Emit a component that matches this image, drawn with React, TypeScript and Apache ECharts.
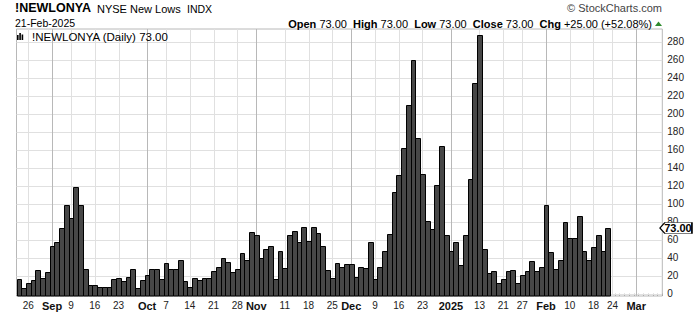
import React, { useEffect, useRef } from "react";
import * as echarts from "echarts";

// Trading days (categories), Aug 22 2024 .. Mar 10 2025
const dates: string[] = [
  "2024-08-22", "2024-08-23", "2024-08-26", "2024-08-27", "2024-08-28", "2024-08-29", "2024-08-30",
  "2024-09-03", "2024-09-04", "2024-09-05", "2024-09-06", "2024-09-09", "2024-09-10", "2024-09-11", "2024-09-12", "2024-09-13",
  "2024-09-16", "2024-09-17", "2024-09-18", "2024-09-19", "2024-09-20", "2024-09-23", "2024-09-24", "2024-09-25", "2024-09-26", "2024-09-27", "2024-09-30",
  "2024-10-01", "2024-10-02", "2024-10-03", "2024-10-04", "2024-10-07", "2024-10-08", "2024-10-09", "2024-10-10", "2024-10-11",
  "2024-10-14", "2024-10-15", "2024-10-16", "2024-10-17", "2024-10-18", "2024-10-21", "2024-10-22", "2024-10-23", "2024-10-24", "2024-10-25",
  "2024-10-28", "2024-10-29", "2024-10-30", "2024-10-31",
  "2024-11-01", "2024-11-04", "2024-11-05", "2024-11-06", "2024-11-07", "2024-11-08", "2024-11-11", "2024-11-12", "2024-11-13", "2024-11-14", "2024-11-15",
  "2024-11-18", "2024-11-19", "2024-11-20", "2024-11-21", "2024-11-22", "2024-11-25", "2024-11-26", "2024-11-27", "2024-11-29",
  "2024-12-02", "2024-12-03", "2024-12-04", "2024-12-05", "2024-12-06", "2024-12-09", "2024-12-10", "2024-12-11", "2024-12-12", "2024-12-13",
  "2024-12-16", "2024-12-17", "2024-12-18", "2024-12-19", "2024-12-20", "2024-12-23", "2024-12-24", "2024-12-26", "2024-12-27", "2024-12-30", "2024-12-31",
  "2025-01-02", "2025-01-03", "2025-01-06", "2025-01-07", "2025-01-08", "2025-01-10", "2025-01-13", "2025-01-14", "2025-01-15", "2025-01-16", "2025-01-17",
  "2025-01-21", "2025-01-22", "2025-01-23", "2025-01-24", "2025-01-27", "2025-01-28", "2025-01-29", "2025-01-30", "2025-01-31",
  "2025-02-03", "2025-02-04", "2025-02-05", "2025-02-06", "2025-02-07", "2025-02-10", "2025-02-11", "2025-02-12", "2025-02-13", "2025-02-14",
  "2025-02-18", "2025-02-19", "2025-02-20", "2025-02-21",
  "2025-02-24", "2025-02-25", "2025-02-26", "2025-02-27", "2025-02-28",
  "2025-03-03", "2025-03-04", "2025-03-05", "2025-03-06", "2025-03-07", "2025-03-10",
];

// Daily values of !NEWLONYA (one per trading day, Aug 22 2024 .. Feb 21 2025)
const values: number[] = [
  16, 6, 12, 15, 26, 17, 24,
  53, 57, 73, 99, 84, 118, 99, 28, 10,
  10, 7, 7, 7, 16, 18, 14, 19, 28, 6, 15,
  21, 27, 27, 16, 34, 28, 28, 37, 14,
  7, 17, 15, 18, 17, 25, 30, 40, 35, 24,
  28, 45, 38, 69,
  65, 40, 50, 53, 16, 47, 29, 65, 70, 58, 74,
  59, 74, 68, 53, 26, 17, 34, 30, 33,
  33, 19, 30, 29, 58, 16, 30, 47, 66, 113,
  132, 162, 210, 260, 173, 133, 81, 72, 121, 164, 65,
  48, 57, 32, 65, 127, 234, 287, 50, 23, 25, 12,
  16, 25, 26, 12, 21, 25, 36, 25, 30,
  98, 46, 28, 37, 80, 62, 62, 86, 47, 38,
  52, 65, 48, 73,
];

const tickDates: string[] = [
  "2024-08-26", "2024-09-03", "2024-09-09", "2024-09-16", "2024-09-23", "2024-10-01", "2024-10-07",
  "2024-10-14", "2024-10-21", "2024-10-28", "2024-11-01", "2024-11-11", "2024-11-18", "2024-11-25",
  "2024-12-02", "2024-12-09", "2024-12-16", "2024-12-23", "2025-01-02", "2025-01-13", "2025-01-21",
  "2025-01-27", "2025-02-03", "2025-02-10", "2025-02-18", "2025-02-24", "2025-03-03",
];
const tickLabels: string[] = [
  "26", "Sep", "9", "16", "23", "Oct", "7", "14", "21", "28", "Nov", "11", "18", "25",
  "Dec", "9", "16", "23", "2025", "13", "21", "27", "Feb", "10", "18", "24", "Mar",
];
const monthLabels: string[] = ["Sep", "Oct", "Nov", "Dec", "2025", "Feb", "Mar"];
const yTicks: number[] = [0, 20, 40, 60, 80, 100, 120, 140, 160, 180, 200, 220, 240, 260, 280];

const Y_MIN = -2.5;
const Y_MAX = 294;
const FONT = "'Liberation Sans', Arial, sans-serif";

export default function App() {
  const ref = useRef<HTMLDivElement>(null);

  useEffect(() => {
    if (!ref.current) return;
    const chart = echarts.init(ref.current, null, { renderer: "svg" });

    const tickMap = new Map<string, string>();
    tickDates.forEach((d, i) => tickMap.set(d, tickLabels[i]));
    const isMonth = (lbl: string) => monthLabels.indexOf(lbl) >= 0;

    const n = values.length;
    const last = values[n - 1];
    const prev = values[n - 2];
    const chg = last - prev;
    const pct = (chg / prev) * 100;
    const f2 = (v: number) => v.toFixed(2);
    const sign = (v: number) => (v >= 0 ? "+" : "") + f2(v);

    const header =
      `{b|Open} ${f2(last)}  {b|High} ${f2(last)}  {b|Low} ${f2(last)}  {b|Close} ${f2(last)}  {b|Chg} ${sign(chg)} (${sign(pct)}%)`;

    chart.setOption({
      animation: false,
      backgroundColor: "#fff",
      textStyle: { fontFamily: FONT },
      grid: {
        left: 16.5,
        top: 29,
        width: 645.8,
        height: 267,
        show: true,
        borderColor: "#b8b8b8",
        borderWidth: 1,
        backgroundColor: "#fff",
      },
      xAxis: {
        type: "category",
        data: dates,
        boundaryGap: true,
        axisLine: { show: false },
        axisTick: { show: true, interval: 0, length: 2, lineStyle: { color: "#999" } },
        splitLine: { show: false },
        axisLabel: {
          interval: (_i: number, v: string) => tickMap.has(v),
          formatter: (v: string) => {
            const l = tickMap.get(v) || "";
            return isMonth(l) ? `{m|${l}}` : l;
          },
          color: "#222",
          fontSize: 10,
          fontFamily: FONT,
          margin: 4,
          rich: { m: { fontWeight: "bold", fontSize: 11, color: "#111", fontFamily: FONT } },
        },
      },
      yAxis: {
        type: "value",
        position: "right",
        min: Y_MIN,
        max: Y_MAX,
        axisLine: { show: false },
        axisTick: { show: false },
        splitLine: { show: false },
        axisLabel: {
          customValues: yTicks,
          color: "#222",
          fontSize: 10,
          fontFamily: FONT,
          margin: 5,
        },
      },
      series: [
        {
          type: "custom",
          name: "hgrid",
          silent: true,
          z: 1,
          data: yTicks.map((v) => [0, v]),
          renderItem: (params: any, api: any) => {
            const cs = params.coordSys;
            const y = Math.round(api.coord([0, api.value(1)])[1]) + 0.5;
            return {
              type: "line",
              shape: { x1: cs.x, y1: y, x2: cs.x + cs.width, y2: y },
              style: { stroke: "#e0e0e0", lineWidth: 1 },
            };
          },
        },
        {
          type: "custom",
          name: "vgrid",
          silent: true,
          z: 1,
          data: tickDates.map((d, i) => [d, 0, isMonth(tickLabels[i]) ? 1 : 0]),
          renderItem: (params: any, api: any) => {
            const cs = params.coordSys;
            const x = Math.round(api.coord([api.value(0), 0])[0]) + 0.5;
            const strong = api.value(2) === 1;
            return {
              type: "line",
              shape: { x1: x, y1: cs.y, x2: x, y2: cs.y + cs.height },
              style: { stroke: strong ? "#b8b8b8" : "#e0e0e0", lineWidth: 1 },
            };
          },
        },
        {
          type: "custom",
          name: "!NEWLONYA",
          z: 3,
          data: values.map((v, i) => [i, v]),
          renderItem: (_params: any, api: any) => {
            const i = api.value(0);
            const v = api.value(1);
            const top = api.coord([i, v]);
            const base = api.coord([i, Y_MIN]);
            const w = api.size([1, 0])[0];
            const x0 = Math.round(top[0] - w / 2) + 0.5;
            const x1 = Math.round(top[0] + w / 2) + 0.5;
            const y0 = Math.round(top[1]) + 0.5;
            return {
              type: "rect",
              shape: { x: x0, y: y0, width: x1 - x0, height: base[1] - y0 },
              style: { fill: "#474747", stroke: "#000", lineWidth: 1 },
            };
          },
        },
        {
          type: "scatter",
          name: "lastValue",
          silent: true,
          clip: false,
          z: 10,
          data: [[dates.length - 1, last]],
          symbol: "path://M0,5L5,0L32,0L32,10L5,10Z",
          symbolSize: [32, 11],
          symbolOffset: ["50%", 0],
          itemStyle: { color: "#fff", borderColor: "#000", borderWidth: 1, opacity: 1 },
          label: {
            show: true,
            position: "inside",
            offset: [2, 0],
            formatter: () => f2(last),
            color: "#000",
            fontWeight: "bold",
            fontSize: 11,
            fontFamily: FONT,
          },
        },
      ],
      graphic: [
        {
          type: "text",
          x: 15,
          y: 8,
          style: { text: "!NEWLONYA", font: `bold 12.5px ${FONT}`, fill: "#000", align: "left", verticalAlign: "middle", textAlign: "left", textVerticalAlign: "middle" },
        },
        {
          type: "text",
          x: 97,
          y: 8.5,
          style: { text: "NYSE New Lows", font: `11px ${FONT}`, fill: "#000", align: "left", verticalAlign: "middle", textAlign: "left", textVerticalAlign: "middle" },
        },
        {
          type: "text",
          x: 187,
          y: 8.5,
          style: { text: "INDX", font: `10.5px ${FONT}`, fill: "#000", align: "left", verticalAlign: "middle", textAlign: "left", textVerticalAlign: "middle" },
        },
        {
          type: "text",
          x: 15,
          y: 23,
          style: { text: "21-Feb-2025", font: `10.5px ${FONT}`, fill: "#000", align: "left", verticalAlign: "middle", textAlign: "left", textVerticalAlign: "middle" },
        },
        {
          type: "text",
          x: 652,
          y: 23.5,
          style: {
            text: header,
            fontSize: 11,
            fontFamily: FONT,
            fill: "#000",
            align: "right",
            verticalAlign: "middle",
            textAlign: "right",
            textVerticalAlign: "middle",
            rich: { b: { fontWeight: "bold", fontSize: 11, fontFamily: FONT, fill: "#000" } },
          },
        },
        {
          type: "polygon",
          shape: { points: [[655, 26], [662, 26], [658.5, 21.5]] },
          style: { fill: "#2e8b2e" },
        },
        {
          type: "text",
          x: 662,
          y: 7.5,
          style: { text: "© StockCharts.com", font: `11px ${FONT}`, fill: "#444", align: "right", verticalAlign: "middle", textAlign: "right", textVerticalAlign: "middle" },
        },
        { type: "rect", z: 20, shape: { x: 17, y: 35, width: 1.6, height: 5 }, style: { fill: "#000" } },
        { type: "rect", z: 20, shape: { x: 19.3, y: 33, width: 1.6, height: 7 }, style: { fill: "#000" } },
        { type: "rect", z: 20, shape: { x: 21.6, y: 34.5, width: 1.6, height: 5.5 }, style: { fill: "#000" } },
        {
          type: "text",
          z: 20,
          x: 32,
          y: 36.5,
          style: { text: `!NEWLONYA (Daily) ${f2(last)}`, font: `11.5px ${FONT}`, fill: "#000", align: "left", verticalAlign: "middle", textAlign: "left", textVerticalAlign: "middle" },
        },
      ],
    });

    return () => chart.dispose();
  }, []);

  return (
    <div
      ref={ref}
      style={{ position: "fixed", left: 0, top: 0, width: 700, height: 312, background: "#fff" }}
    />
  );
}
